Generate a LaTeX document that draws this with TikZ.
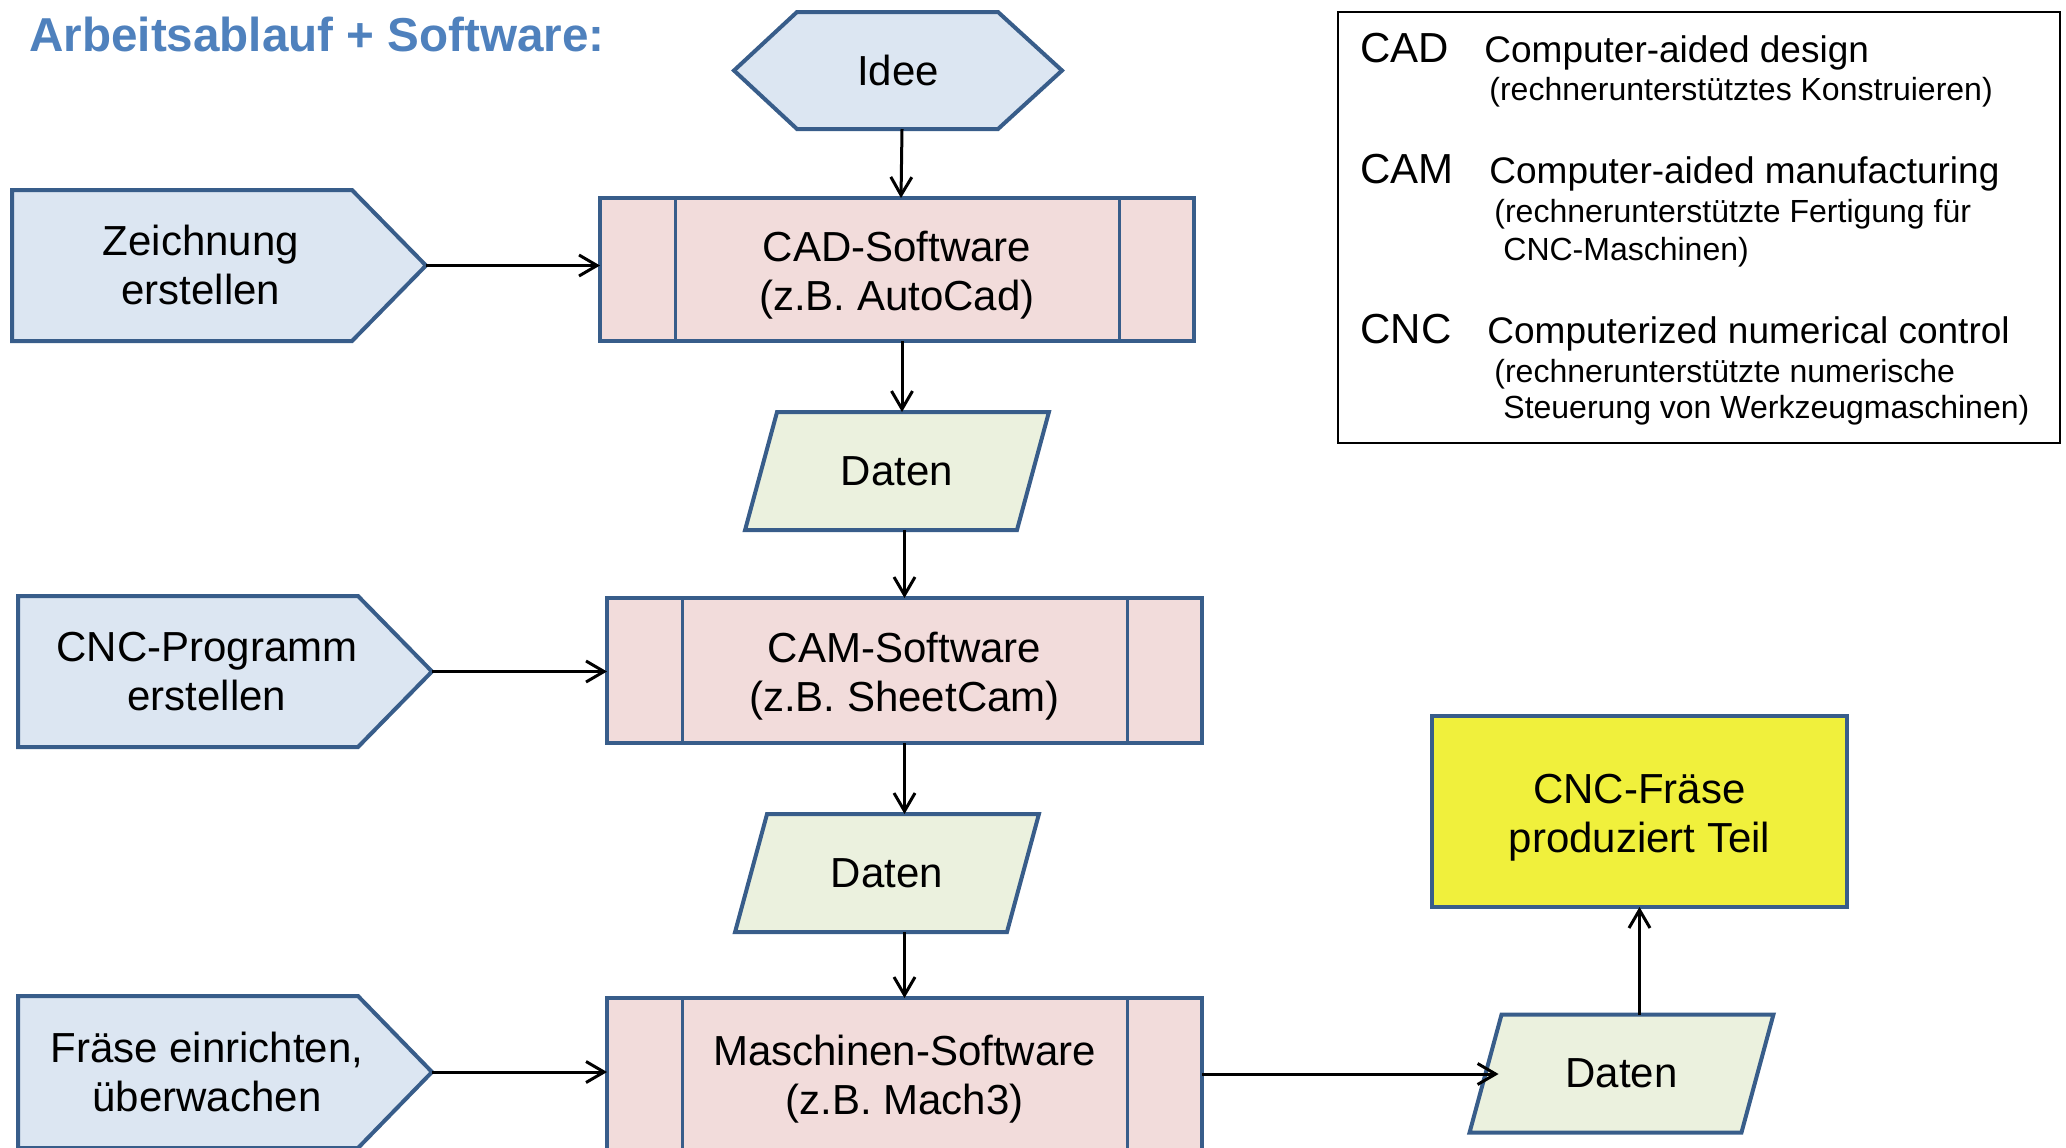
\documentclass[tikz,border=0pt]{standalone}
\usepackage{fontspec}
\setmainfont{Liberation Sans}
\usetikzlibrary{arrows.meta,shapes.geometric,backgrounds}

\definecolor{outl}{RGB}{56,93,138}
\definecolor{lblue}{RGB}{220,230,242}
\definecolor{lpink}{RGB}{242,220,219}
\definecolor{lgreen}{RGB}{235,241,222}
\definecolor{ylw}{RGB}{240,240,60}
\definecolor{titleblue}{RGB}{79,129,189}

% strut that lowers two-line labels to the optical centre of their box
\newcommand\topstrut{\rule{0pt}{20.5pt}}
% two centred lines, nudged left inside the arrow-shaped boxes
\newcommand\pentext[2]{\begin{tabular}{@{}c@{}}\rule{0pt}{22.3pt}#1\\#2\end{tabular}\hspace*{18pt}}

\tikzset{
  base/.style={font=\fontsize{21}{24.5}\selectfont, align=center, inner sep=0pt, outer sep=0pt},
  outline/.style={draw=outl, line width=2pt},
  frame/.style={font=\fontsize{21}{24.5}\selectfont, inner sep=0pt, outer sep=0pt},
  hexa/.style={frame, minimum width=164pt, minimum height=58.5pt},
  pent/.style={frame, minimum width=207pt, minimum height=75.5pt},
  subproc/.style={base, outline, fill=lpink, minimum width=297.5pt, minimum height=72.5pt},
  datanode/.style={base, outline, fill=lgreen, trapezium, trapezium left angle=63,
    trapezium right angle=117, trapezium stretches=true,
    minimum width=153pt, minimum height=59pt},
  endbox/.style={base, outline, fill=ylw, minimum width=207.5pt, minimum height=95.5pt},
  arr/.style={-{Straight Barb[length=9pt,width=10.5pt]}, line width=1.5pt},
  abbr/.style={anchor=base west, inner sep=0pt, font=\fontsize{21}{24}\selectfont},
  desc/.style={anchor=base west, inner sep=0pt, font=\fontsize{18.5}{22}\selectfont},
  note/.style={anchor=base west, inner sep=0pt, font=\fontsize{16}{19}\selectfont},
}

\begin{document}
\begin{tikzpicture}[x=0.5pt, y=-0.5pt]
\useasboundingbox (0,0) rectangle (2066,1147);
\clip (0,0) rectangle (2066,1147);

% title
\node[anchor=base west, inner sep=0pt, text=titleblue,
      font=\fontsize{23.8}{28}\selectfont\bfseries] (title) at (29,51) {Arbeitsablauf + Software:};

% start and inputs
\node[hexa] (idee) at (898,70.5) {Idee};
\node[pent] (zeich) at (219,265.5) {\pentext{Zeichnung}{erstellen}};
\node[pent] (cncp) at (225,671.5) {\pentext{CNC-Programm}{erstellen}};
\node[pent, minimum height=76pt] (fraese) at (225,1072) {\pentext{Fräse einrichten,}{überwachen}};

% software stages
\node[subproc, minimum width=297pt, minimum height=71.5pt] (cad) at (897,269.5) {\topstrut CAD-Software\\(z.B. AutoCad)};
\node[subproc] (cam) at (904.5,670.5) {\topstrut CAM-Software\\(z.B. SheetCam)};
\node[subproc, minimum height=76pt] (masch) at (904.5,1074) {\topstrut Maschinen-Software\\(z.B. Mach3)};
\foreach \n in {cad,cam,masch}{
  \draw[draw=outl, line width=1.5pt] ([xshift=37.5pt]\n.north west) -- ([xshift=37.5pt]\n.south west);
  \draw[draw=outl, line width=1.5pt] ([xshift=-37.5pt]\n.north east) -- ([xshift=-37.5pt]\n.south east);
}

% data
\node[datanode] (d1) at (897,471) {Daten};
\node[datanode] (d2) at (887,873) {Daten};
\node[datanode] (d3) at (1621.5,1073.5) {Daten};

% result
\node[endbox] (mill) at (1639.5,811.5) {\topstrut CNC-Fräse\\produziert Teil};

% outlines of the hexagon and the arrow-shaped boxes
\begin{scope}[on background layer]
  \draw[outline, fill=lblue] (idee.west) -- ([xshift=31.5pt]idee.north west)
    -- ([xshift=-32pt]idee.north east) -- (idee.east)
    -- ([xshift=-32pt]idee.south east) -- ([xshift=31.5pt]idee.south west) -- cycle;
  \foreach \n in {zeich,cncp,fraese}
    \draw[outline, fill=lblue] (\n.north west) -- ([xshift=-37pt]\n.north east)
      -- (\n.east) -- ([xshift=-37pt]\n.south east) -- (\n.south west) -- cycle;
\end{scope}

% flow
\draw[arr] ([xshift=2pt]idee.south) -- ([xshift=2pt]cad.north);
\draw[arr] ([xshift=2.5pt]cad.south) -- ([xshift=2.5pt]cad.south |- d1.top side);
\draw[arr] (cam.north |- d1.bottom side) -- (cam.north);
\draw[arr] (cam.south) -- (cam.south |- d2.top side);
\draw[arr] (masch.north |- d2.bottom side) -- (masch.north);
\draw[arr] (zeich.east) -- (zeich.east -| cad.west);
\draw[arr] (cncp.east) -- (cncp.east -| cam.west);
\draw[arr] (fraese.east) -- (fraese.east -| masch.west);
\draw[arr] (masch.east) -- ([xshift=6.5pt]masch.east -| d3.left side);
\draw[arr] (mill.south |- d3.top side) -- (mill.south);

% glossary
\node[draw=black, line width=0.75pt, minimum width=361pt, minimum height=215.5pt,
      inner sep=0pt] (legend) at (1699,227.5) {};
\node[abbr] (kcad) at (1360,62) {CAD};
\node[desc] (tcad) at (1484,62) {Computer-aided design};
\node[note] (ncad) at (1489,100) {(rechnerunterstütztes Konstruieren)};
\node[abbr] (kcam) at (1360,183) {CAM};
\node[desc] (tcam) at (1489,183) {Computer-aided manufacturing};
\node[note] (ncama) at (1494,222) {(rechnerunterstützte Fertigung für};
\node[note] (ncamb) at (1503,260) {CNC-Maschinen)};
\node[abbr] (kcnc) at (1360,343) {CNC};
\node[desc] (tcnc) at (1487,343) {Computerized numerical control};
\node[note] (ncnca) at (1494,382) {(rechnerunterstützte numerische};
\node[note] (ncncb) at (1503,418) {Steuerung von Werkzeugmaschinen)};
\end{tikzpicture}
\end{document}
